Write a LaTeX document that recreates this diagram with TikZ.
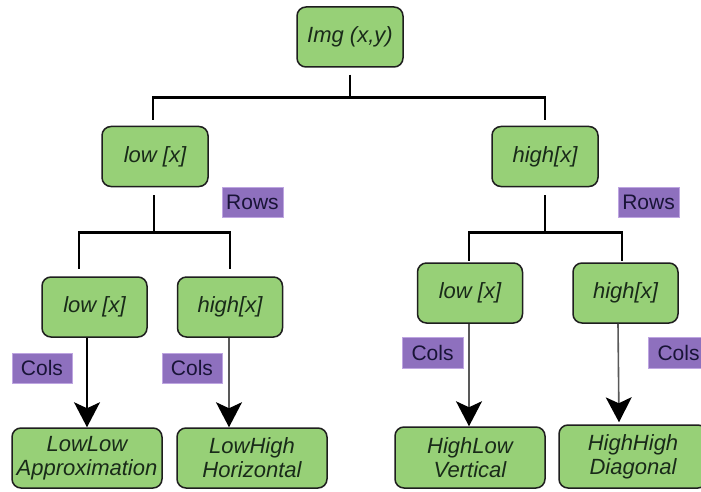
\documentclass[tikz,border=0pt]{standalone}
\usepackage{fontspec}
\setmainfont{Liberation Sans}
\usetikzlibrary{arrows.meta,calc}
\definecolor{boxgreen}{RGB}{151,208,119}
\definecolor{boxline}{RGB}{30,30,30}
\definecolor{boxtext}{RGB}{25,42,25}
\definecolor{labfill}{RGB}{142,112,190}
\definecolor{labline}{RGB}{190,165,225}
\definecolor{labtext}{RGB}{25,20,55}
\tikzset{
  gbox/.style={draw=boxline, fill=boxgreen, line width=1.5pt, rounded corners=9pt,
    minimum width=#1, minimum height=60pt, inner sep=0pt, align=center,
    text=boxtext, font=\fontsize{22}{24}\selectfont\itshape},
  gbox/.default=106pt,
  lab/.style={draw=labline, fill=labfill, line width=1pt, minimum width=61pt,
    minimum height=30pt, inner sep=0pt, text=labtext, font=\fontsize{21}{24}\selectfont},
  tree/.style={line width=2.5pt, draw=black},
  arr/.style={line width=1.6pt, -{Stealth[length=25pt,width=26pt,inset=6pt,black]}},
}
\begin{document}
\begin{tikzpicture}[x=1pt,y=-1pt]
\clip (0,0) rectangle (701,492);
\fill[white] (0,0) rectangle (701,492);
% nodes
\node[gbox] (img) at (350,37) {Img (x,y)};
\node[gbox] (L) at (155,156.5) {low [x]};
\node[gbox] (H) at (545,156.5) {high[x]};
\node[gbox=105pt] (LL) at (94.5,307) {low [x]};
\node[gbox=105pt] (LH) at (230,307) {high[x]};
\node[gbox=105pt] (HL) at (470,293) {low [x]};
\node[gbox=105pt] (HH) at (625.5,293) {high[x]};
\node[gbox=150pt] (LLo) at (87,458) {LowLow\\Approximation};
\node[gbox=150pt] (LHo) at (252,458) {LowHigh\\Horizontal};
\node[gbox=150pt, minimum height=61pt] (HLo) at (470,457.5) {HighLow\\Vertical};
\node[gbox=148pt, minimum height=63pt] (HHo) at (633,456.5) {HighHigh\\Diagonal};
% labels
\node[lab] (r1) at (252.5,202) {Rows};
\node[lab] (r2) at (648.5,202) {Rows};
\node[lab, minimum width=60pt] (c1) at (42,368) {Cols};
\node[lab, minimum width=60pt] (c2) at (192,368) {Cols};
\node[lab, minimum height=31pt] (c3) at (432.5,352.5) {Cols};
\node[lab, minimum height=31pt] (c4) at (678.5,352.5) {Cols};
% tree connectors
\draw[tree] ([yshift=-7pt]img.south) -- ++(0,23) coordinate (j0);
\draw[tree] (j0) -| ([xshift=-2pt,yshift=6pt]L.north);
\draw[tree] (j0) -| ([yshift=6pt]H.north);
\draw[tree] ([xshift=-1pt,yshift=-8pt]L.south) -- ++(0,37) coordinate (j1);
\draw[tree] (j1) -| ([xshift=-15.5pt,yshift=7pt]LL.north);
\draw[tree] (j1) -| ([yshift=7pt]LH.north);
\draw[tree] ([yshift=-8pt]H.south) -- ++(0,37) coordinate (j2);
\draw[tree] (j2) -| ([xshift=-1pt,yshift=1pt]HL.north);
\draw[tree] (j2) -| ([xshift=-3.5pt,yshift=1pt]HH.north);
% arrows
\draw[arr, draw=black] ([xshift=-7.5pt]LL.south) -- (LLo.north);
\draw[arr, draw=black!65] ([xshift=-1pt]LH.south) -- ([xshift=-23pt]LHo.north);
\draw[arr, draw=black!65] ([xshift=-1pt]HL.south) -- ([xshift=-1pt]HLo.north);
\draw[arr, draw=black!65] ([xshift=-7.5pt]HH.south) -- ([xshift=-14pt,yshift=2pt]HHo.north);
\end{tikzpicture}
\end{document}
